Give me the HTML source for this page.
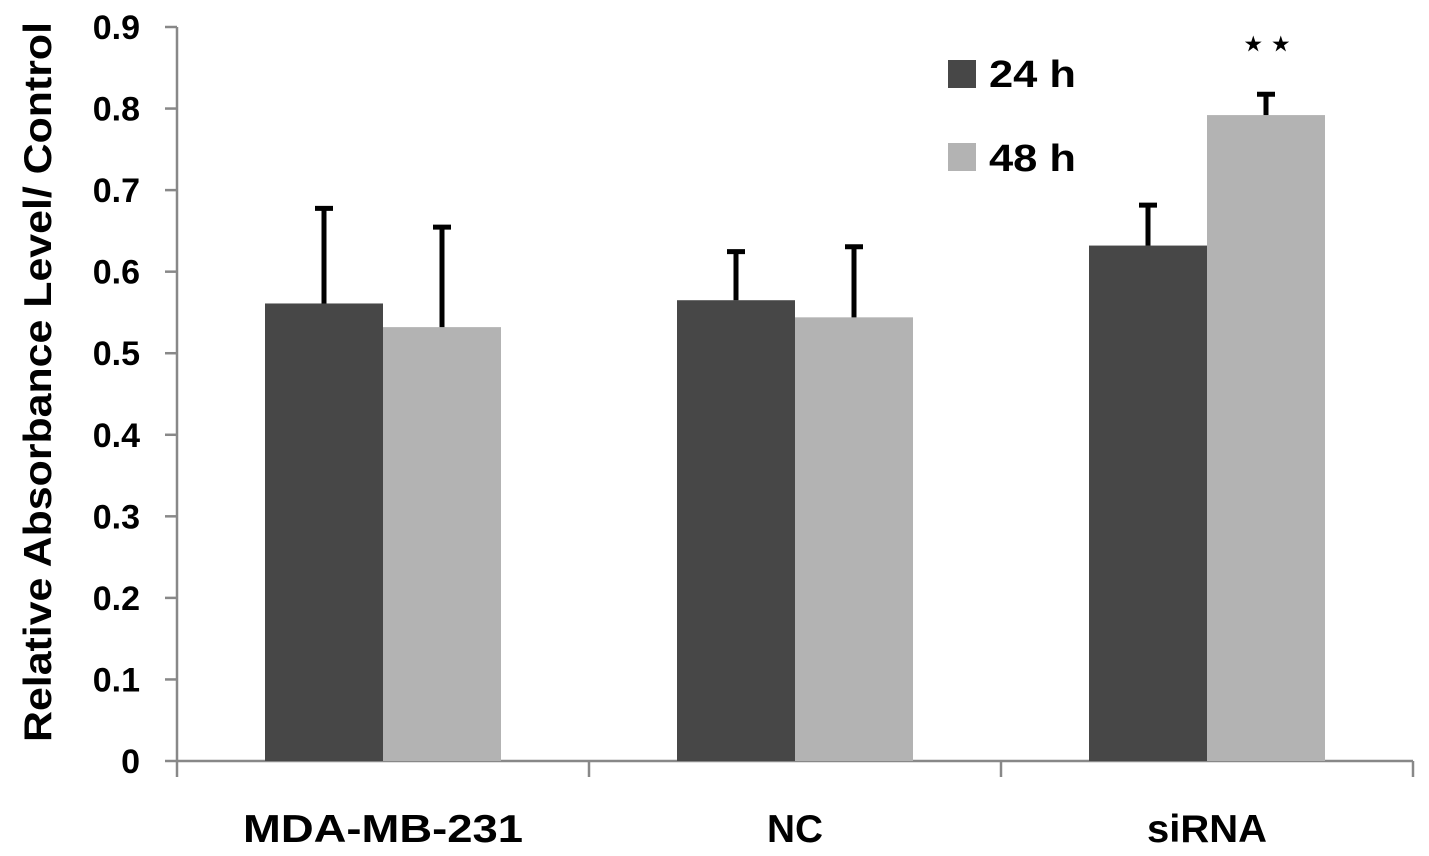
<!DOCTYPE html>
<html><head><meta charset="utf-8"><style>
body{margin:0;background:#fff;}
svg{display:block;font-family:"Liberation Sans",Arial,sans-serif;font-weight:bold;}
</style></head><body>
<svg id="chart" width="1429" height="856" viewBox="0 0 1429 856" xmlns="http://www.w3.org/2000/svg">
<g id="axes"></g><g id="bars"></g>
<text transform="translate(51,382) rotate(-90)" text-anchor="middle" font-size="39" textLength="720" lengthAdjust="spacingAndGlyphs" fill="#000">Relative Absorbance Level/ Control</text>
<rect x="948" y="60" width="28" height="28" fill="#474747"/>
<text x="989" y="87" font-size="38" textLength="87" lengthAdjust="spacingAndGlyphs" fill="#000">24 h</text>
<rect x="948" y="143" width="28" height="28" fill="#b3b3b3"/>
<text x="989" y="171" font-size="38" textLength="87" lengthAdjust="spacingAndGlyphs" fill="#000">48 h</text>
<text x="1267" y="58" text-anchor="middle" font-size="44" font-weight="normal" fill="#000">⋆⋆</text>
</svg>
<script>
const categories=["MDA-MB-231","NC","siRNA"];
const values24=[0.561,0.565,0.632];
const err24=[0.119,0.062,0.052];
const values48=[0.532,0.544,0.792];
const err48=[0.125,0.089,0.028];
const yTicks=[0,0.1,0.2,0.3,0.4,0.5,0.6,0.7,0.8,0.9];
const labelW=[280,56,120];
const NS="http://www.w3.org/2000/svg";
const x0=177,x1=1413,y0=761,yTop=27,yMax=0.9;
const catW=(x1-x0)/categories.length, barW=118;
const yS=v=>y0-(v/yMax)*(y0-yTop);
function mk(t,a,p){const e=document.createElementNS(NS,t);for(const k in a)e.setAttribute(k,a[k]);p.appendChild(e);return e;}
const ax=document.getElementById('axes'), bg=document.getElementById('bars');
yTicks.forEach(v=>{
  const y=yS(v);
  const t=mk('line',{x1:165,x2:x0,y1:y,y2:y,stroke:'#888','stroke-width':2.5},ax);
  
  const l=mk('text',{x:140,y:y+12,'text-anchor':'end','font-size':34,fill:'#000'},ax);
  
  l.textContent=String(v);
});
const ya=mk('line',{x1:x0,x2:x0,y1:yTop,y2:y0,stroke:'#888','stroke-width':2.5},ax);

const xa=mk('line',{x1:x0,x2:x1,y1:y0,y2:y0,stroke:'#888','stroke-width':2.5},ax);

for(let i=0;i<=categories.length;i++){
  const x=x0+i*catW;
  const t=mk('line',{x1:x,x2:x,y1:y0,y2:777,stroke:'#888','stroke-width':2.5},ax);
  
}
function bar(i,v,e,left,color,name){
  const cx=x0+i*catW+catW/2;
  const x=left?cx-barW:cx;
  const r=mk('rect',{x:x,y:yS(v),width:barW,height:y0-yS(v),fill:color},bg);
  
  const mx=x+barW/2;
  const s=mk('line',{x1:mx,x2:mx,y1:yS(v),y2:yS(v+e),stroke:'#000','stroke-width':5},bg);
  
  const c=mk('line',{x1:mx-9,x2:mx+9,y1:yS(v+e)+2,y2:yS(v+e)+2,stroke:'#000','stroke-width':5},bg);
  
}
categories.forEach((c,i)=>{
  bar(i,values24[i],err24[i],true,'#474747','bar-24h');
  bar(i,values48[i],err48[i],false,'#b3b3b3','bar-48h');
  const l=mk('text',{x:x0+i*catW+catW/2,y:842,'text-anchor':'middle','font-size':39,textLength:labelW[i],lengthAdjust:'spacingAndGlyphs',fill:'#000'},ax);
  
  l.textContent=c;
});
</script>
</body></html>
